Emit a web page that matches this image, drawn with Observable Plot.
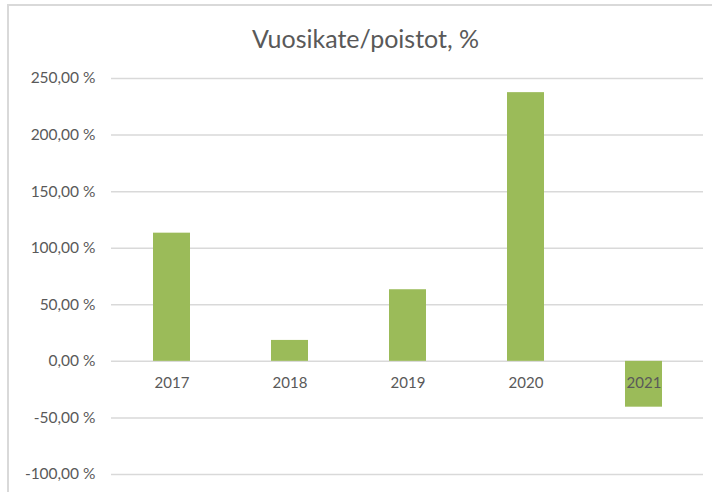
<!DOCTYPE html>
<html>
<head>
<meta charset="utf-8">
<script src="https://cdn.jsdelivr.net/npm/d3@7"></script>
<script src="https://cdn.jsdelivr.net/npm/@observablehq/plot@0.6"></script>
<style>
  html, body { margin: 0; padding: 0; background: #fff; overflow: hidden; }
  #wrap { position: relative; width: 712px; height: 492px; overflow: hidden; }
  #box { position: absolute; left: 7px; top: 4px; width: 720px; height: 520px; border: 2px solid #d9d9d9; box-sizing: border-box; }
  #chart { position: absolute; left: 0; top: 0; }
</style>
</head>
<body>
<div id="wrap"><div id="box"></div><div id="chart"></div></div>
<script>
const title = "Vuosikate/poistot, %";
const years = ["2017", "2018", "2019", "2020", "2021"];
const values = [113.3, 18.5, 63.3, 237.5, -40.5];
const yTicks = [-100, -50, 0, 50, 100, 150, 200, 250];

const data = years.map((y, i) => ({year: y, value: values[i]}));
const font = "Lato, 'Open Sans', sans-serif";
const fmt = d => d.toFixed(2).replace(".", ",") + " %";

const chart = Plot.plot({
  width: 712,
  height: 492,
  marginLeft: 111,
  marginRight: 9,
  marginTop: 78,
  marginBottom: 18,
  style: {fontFamily: font, background: "transparent", color: "#595959"},
  x: {domain: years, paddingInner: 0.6875, paddingOuter: 0.34375, axis: null},
  y: {domain: [-100, 250], axis: null},
  marks: [
    Plot.gridY(yTicks, {stroke: "#d9d9d9", strokeOpacity: 1, strokeWidth: 1.5}),
    Plot.axisY(yTicks, {tickSize: 0, tickPadding: 16, tickFormat: fmt, fontSize: 15.5, fill: "#595959", label: null}),
    Plot.barY(data, {x: "year", y: "value", fill: "#9bbb59"}),
    Plot.text(years, {x: d => d, y: () => 0, dy: 22, text: d => d, fontSize: 15, fill: "#595959"}),
    Plot.text([title], {frameAnchor: "top", dx: -42, dy: -48, text: d => d, fontSize: 25, fill: "#595959"})
  ]
});
document.getElementById("chart").appendChild(chart);
</script>
</body>
</html>
